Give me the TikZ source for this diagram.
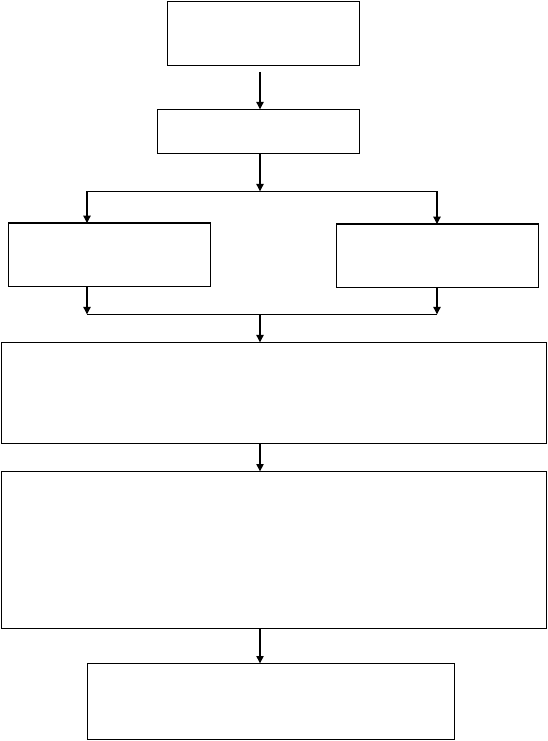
\documentclass[tikz,border=0pt]{standalone}
\usetikzlibrary{arrows.meta}
\begin{document}
\begin{tikzpicture}[x=0.75pt,y=-0.75pt,
  box/.style={draw,line width=0.8pt,inner sep=0pt,outer sep=0pt},
  arr/.style={line width=0.8pt,-{Triangle[length=5.5pt,width=5.5pt]}},
  ln/.style={line width=0.8pt}]
\useasboundingbox[fill=white] (0,0) rectangle (547,741);
\node[box,minimum width=144.2pt,minimum height=48pt] (b1) at (263.3,33.3) {};
\node[box,minimum width=151.9pt,minimum height=33.3pt] (b2) at (258.3,131.5) {};
\node[box,minimum width=151.7pt,minimum height=47.8pt] (bl) at (109.5,254.9) {};
\node[box,minimum width=151.5pt,minimum height=47.5pt] (br) at (437.4,255.7) {};
\node[box,minimum width=408.75pt,minimum height=75.75pt] (b3) at (273.9,392.8) {};
\node[box,minimum width=408.75pt,minimum height=117.5pt] (b4) at (273.9,549.7) {};
\node[box,minimum width=275.5pt,minimum height=56.8pt] (b5) at (271,701.2) {};
\coordinate (c1) at (260,72);
\coordinate (j1) at (260,191.3);
\coordinate (jl) at (87,191.3);
\coordinate (jr) at (437,191.3);
\coordinate (k) at (260,314.3);
\coordinate (kl) at (87,314.3);
\coordinate (kr) at (437,314.3);
\draw[arr] (c1) -- (c1 |- b2.north);
\draw[arr] (b2.south -| j1) -- (j1);
\draw[ln] (jl) -- (jr);
\draw[arr] (jl) -- (jl |- bl.north);
\draw[arr] (jr) -- (jr |- br.north);
\draw[arr] (kl |- bl.south) -- (kl);
\draw[arr] (kr |- br.south) -- (kr);
\draw[ln] (kl) -- (kr);
\draw[arr] (k) -- (k |- b3.north);
\draw[arr] (b3.south -| k) -- (k |- b4.north);
\draw[arr] (b4.south -| k) -- (k |- b5.north);
\end{tikzpicture}
\end{document}
